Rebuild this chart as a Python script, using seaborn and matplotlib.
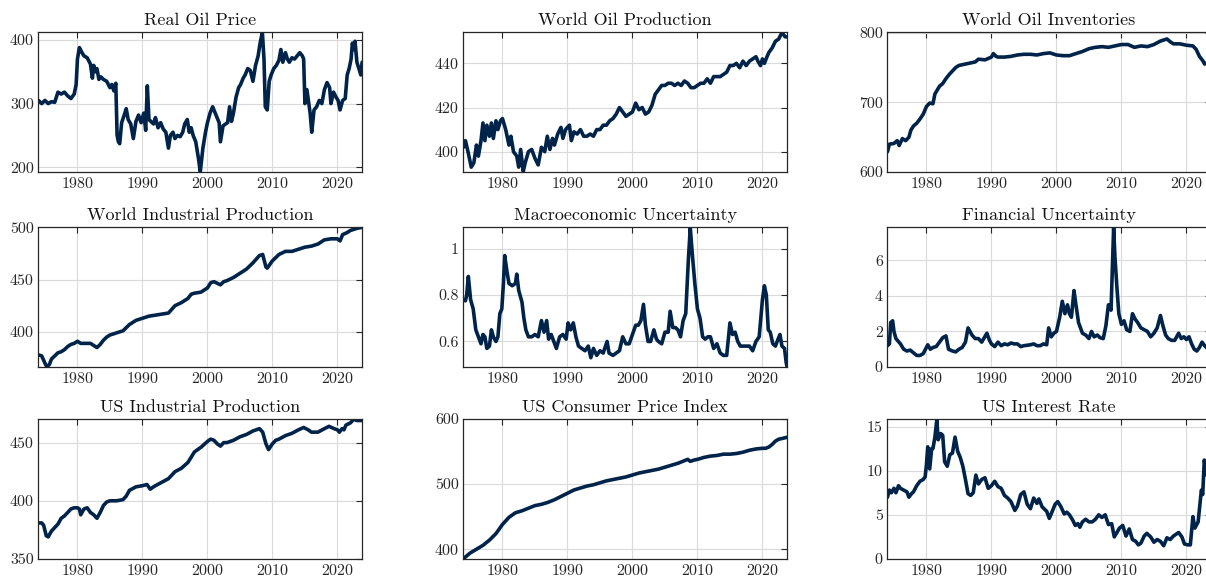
import matplotlib
matplotlib.use("Agg")
import matplotlib.pyplot as plt
import matplotlib.ticker as mticker
import numpy as np
import pandas as pd
import seaborn as sns

# ---------------- data: (year, value) ----------------
real_oil_price = [
    (1974.0, 305), (1974.5, 300), (1975.0, 305), (1975.5, 300), (1976.0, 303), (1976.5, 302),
    (1977.0, 318), (1977.5, 315), (1978.0, 318), (1978.5, 312), (1979.0, 308), (1979.5, 315),
    (1979.8, 330), (1980.0, 370), (1980.3, 388), (1980.7, 380), (1981.0, 375), (1981.5, 372),
    (1982.0, 362), (1982.3, 340), (1982.5, 360), (1982.8, 350), (1983.0, 355), (1983.3, 338),
    (1983.6, 342), (1984.0, 338), (1984.5, 335), (1985.0, 325), (1985.3, 330), (1985.6, 320),
    (1985.9, 332), (1986.1, 250), (1986.3, 240), (1986.5, 237), (1986.8, 270), (1987.2, 282),
    (1987.5, 292), (1987.8, 275), (1988.2, 268), (1988.6, 245), (1989.0, 272), (1989.4, 282),
    (1989.8, 270), (1990.2, 285), (1990.5, 258), (1990.75, 328), (1991.0, 275), (1991.3, 272),
    (1991.7, 268), (1992.0, 278), (1992.4, 262), (1992.8, 270), (1993.2, 260), (1993.6, 255),
    (1994.0, 230), (1994.3, 250), (1994.7, 255), (1995.0, 245), (1995.4, 250), (1995.8, 248),
    (1996.2, 255), (1996.5, 268), (1996.9, 275), (1997.2, 255), (1997.5, 262), (1997.8, 250),
    (1998.2, 240), (1998.6, 215), (1998.9, 193), (1999.3, 230), (1999.7, 255), (2000.0, 270),
    (2000.4, 285), (2000.8, 295), (2001.0, 290), (2001.4, 280), (2001.8, 270), (2002.0, 240),
    (2002.4, 265), (2002.8, 268), (2003.1, 270), (2003.4, 295), (2003.7, 272), (2004.0, 285),
    (2004.4, 310), (2004.8, 325), (2005.1, 330), (2005.5, 340), (2005.8, 345), (2006.2, 355),
    (2006.6, 352), (2007.0, 335), (2007.4, 360), (2007.8, 375), (2008.1, 395), (2008.45, 412),
    (2008.7, 370), (2008.9, 295), (2009.2, 290), (2009.5, 335), (2009.8, 345), (2010.2, 355),
    (2010.6, 360), (2011.0, 368), (2011.3, 385), (2011.6, 365), (2012.0, 380), (2012.3, 370),
    (2012.6, 365), (2013.0, 372), (2013.4, 370), (2013.8, 375), (2014.2, 380), (2014.6, 375),
    (2014.8, 370), (2015.0, 300), (2015.3, 322), (2015.6, 300), (2015.8, 285), (2016.05, 255),
    (2016.4, 290), (2016.8, 295), (2017.2, 305), (2017.6, 300), (2018.0, 322), (2018.4, 333),
    (2018.8, 325), (2019.0, 300), (2019.4, 318), (2019.8, 310), (2020.1, 305), (2020.4, 290),
    (2020.8, 305), (2021.2, 308), (2021.5, 345), (2021.8, 355), (2022.1, 370), (2022.3, 395),
    (2022.5, 385), (2022.7, 398), (2023.0, 365), (2023.3, 355), (2023.6, 345), (2023.8, 365),
]

world_oil_production = [
    (1974.0, 402), (1974.3, 405), (1974.7, 400), (1975.2, 393), (1975.6, 395), (1976.0, 403),
    (1976.3, 398), (1976.7, 405), (1977.0, 413), (1977.3, 405), (1977.6, 412), (1978.0, 407),
    (1978.3, 413), (1978.6, 406), (1979.0, 414), (1979.3, 410), (1979.7, 414), (1980.0, 415),
    (1980.5, 410), (1981.0, 403), (1981.3, 407), (1981.7, 400), (1982.2, 398), (1982.5, 393),
    (1982.8, 401), (1983.2, 391), (1983.5, 395), (1984.0, 400), (1984.5, 401), (1985.0, 397),
    (1985.5, 394), (1986.0, 402), (1986.5, 400), (1986.9, 407), (1987.3, 401), (1987.7, 406),
    (1988.0, 403), (1988.5, 408), (1989.0, 411), (1989.3, 406), (1989.7, 410), (1990.3, 412),
    (1990.6, 405), (1991.0, 409), (1991.5, 408), (1992.0, 410), (1992.5, 407), (1993.0, 407),
    (1993.5, 408), (1994.0, 407), (1994.5, 410), (1995.0, 410), (1995.5, 412), (1996.0, 412),
    (1996.5, 414), (1997.0, 415), (1997.5, 417), (1998.0, 420), (1998.5, 418), (1999.0, 416),
    (1999.5, 417), (2000.0, 418), (2000.5, 422), (2001.0, 419), (2001.5, 420), (2002.0, 417),
    (2002.5, 418), (2003.0, 421), (2003.5, 426), (2004.0, 428), (2004.5, 430), (2005.0, 430),
    (2005.5, 431), (2006.0, 431), (2006.5, 430), (2007.0, 431), (2007.5, 430), (2008.0, 432),
    (2008.5, 431), (2009.0, 429), (2009.5, 429), (2010.0, 430), (2010.5, 431), (2011.0, 431),
    (2011.5, 433), (2012.0, 431), (2012.5, 434), (2013.0, 434), (2013.5, 434), (2014.0, 435),
    (2014.5, 436), (2015.0, 439), (2015.5, 439), (2016.0, 440), (2016.5, 438), (2017.0, 441),
    (2017.5, 439), (2018.0, 441), (2018.5, 442), (2019.0, 443), (2019.3, 441), (2019.7, 439),
    (2020.0, 442), (2020.3, 440), (2020.7, 443), (2021.0, 445), (2021.5, 447), (2022.0, 450),
    (2022.5, 451), (2023.0, 454), (2023.5, 452), (2023.8, 452),
]

world_oil_inventories = [
    (1974.0, 629), (1974.3, 640), (1975.0, 641), (1975.5, 645), (1975.8, 638), (1976.3, 648),
    (1976.8, 645), (1977.3, 650), (1977.6, 660), (1978.0, 666), (1978.5, 670), (1979.0, 676),
    (1979.5, 683), (1980.0, 694), (1980.5, 699), (1981.0, 698), (1981.3, 712), (1982.0, 723),
    (1982.5, 727), (1983.0, 734), (1983.5, 740), (1984.0, 745), (1984.5, 750), (1985.0, 753),
    (1985.5, 754), (1986.0, 755), (1987.0, 757), (1987.5, 758), (1988.0, 762), (1989.0, 761),
    (1989.5, 763), (1990.0, 765), (1990.3, 770), (1990.7, 766), (1991.0, 765), (1992.0, 765),
    (1993.0, 766), (1994.0, 768), (1995.0, 769), (1996.0, 769), (1997.0, 768), (1998.0, 770),
    (1999.0, 771), (2000.0, 768), (2001.0, 767), (2002.0, 767), (2003.0, 770), (2004.0, 773),
    (2005.0, 777), (2006.0, 779), (2007.0, 780), (2008.0, 779), (2009.0, 781), (2010.0, 783),
    (2011.0, 783), (2012.0, 779), (2013.0, 781), (2014.0, 780), (2015.0, 783), (2016.0, 788),
    (2017.0, 791), (2017.5, 787), (2018.0, 784), (2019.0, 784), (2020.0, 782), (2021.0, 781),
    (2021.5, 776), (2022.0, 766), (2022.5, 760), (2022.8, 755), (2023.2, 757), (2023.8, 753),
]

world_industrial_production = [
    (1974.0, 378), (1974.5, 377), (1975.0, 370), (1975.3, 366.5), (1975.7, 369), (1976.0, 374),
    (1976.5, 377), (1977.0, 380), (1977.5, 381), (1978.0, 383), (1978.5, 386), (1979.0, 388),
    (1979.5, 389), (1980.0, 391), (1980.5, 389), (1981.0, 389), (1981.5, 389), (1982.0, 389),
    (1982.5, 387), (1983.0, 385), (1983.5, 388), (1984.0, 392), (1984.5, 395), (1985.0, 397),
    (1986.0, 399), (1987.0, 401), (1987.5, 404), (1988.0, 407), (1989.0, 411), (1990.0, 413),
    (1991.0, 415), (1992.0, 416), (1993.0, 417), (1994.0, 418), (1995.0, 425), (1996.0, 428),
    (1997.0, 432), (1997.5, 436), (1998.0, 437), (1999.0, 438), (2000.0, 442), (2000.5, 447),
    (2001.0, 448), (2002.0, 445), (2002.5, 448), (2003.0, 449), (2004.0, 452), (2005.0, 456),
    (2006.0, 460), (2007.0, 466), (2008.0, 473), (2008.5, 474), (2009.0, 462), (2009.2, 461),
    (2010.0, 468), (2011.0, 474), (2012.0, 477), (2013.0, 477), (2014.0, 479), (2015.0, 481),
    (2016.0, 482), (2017.0, 484), (2018.0, 488), (2019.0, 489), (2020.0, 489), (2020.4, 487),
    (2020.8, 493), (2021.5, 495), (2022.0, 497), (2023.0, 499), (2023.8, 500),
]

macro_uncertainty = [
    (1974.0, 0.78), (1974.3, 0.775), (1974.5, 0.80), (1974.75, 0.88), (1975.1, 0.78),
    (1975.5, 0.74), (1975.9, 0.65), (1976.3, 0.62), (1976.7, 0.59), (1977.0, 0.63),
    (1977.3, 0.62), (1977.6, 0.57), (1978.0, 0.58), (1978.3, 0.65), (1978.6, 0.62),
    (1979.0, 0.60), (1979.3, 0.62), (1979.6, 0.72), (1979.9, 0.74), (1980.15, 0.85),
    (1980.35, 0.97), (1980.7, 0.90), (1981.0, 0.85), (1981.5, 0.84), (1982.0, 0.85),
    (1982.2, 0.89), (1982.5, 0.82), (1983.0, 0.77), (1983.3, 0.70), (1983.6, 0.65),
    (1984.0, 0.62), (1984.5, 0.62), (1985.0, 0.63), (1985.5, 0.62), (1986.0, 0.69),
    (1986.4, 0.64), (1986.8, 0.69), (1987.1, 0.61), (1987.5, 0.63), (1987.9, 0.60),
    (1988.3, 0.57), (1988.8, 0.62), (1989.3, 0.63), (1989.8, 0.61), (1990.1, 0.68),
    (1990.5, 0.65), (1990.9, 0.68), (1991.3, 0.62), (1991.7, 0.58), (1992.2, 0.57),
    (1992.7, 0.56), (1993.2, 0.58), (1993.6, 0.53), (1994.0, 0.57), (1994.5, 0.54),
    (1995.0, 0.56), (1995.5, 0.55), (1996.1, 0.60), (1996.4, 0.55), (1997.0, 0.54),
    (1997.5, 0.55), (1998.0, 0.56), (1998.5, 0.62), (1999.0, 0.59), (1999.5, 0.59),
    (2000.0, 0.63), (2000.5, 0.67), (2000.9, 0.67), (2001.3, 0.69), (2001.7, 0.76),
    (2002.0, 0.67), (2002.4, 0.60), (2002.8, 0.60), (2003.3, 0.65), (2003.7, 0.61),
    (2004.0, 0.60), (2004.5, 0.59), (2005.0, 0.64), (2005.5, 0.64), (2005.8, 0.73),
    (2006.2, 0.66), (2006.6, 0.66), (2007.0, 0.65), (2007.4, 0.62), (2007.8, 0.69),
    (2008.2, 0.72), (2008.6, 0.95), (2008.9, 1.09), (2009.2, 0.98), (2009.6, 0.85),
    (2010.0, 0.74), (2010.4, 0.70), (2010.8, 0.62), (2011.2, 0.61), (2011.6, 0.62),
    (2012.0, 0.62), (2012.5, 0.57), (2013.0, 0.59), (2013.5, 0.55), (2014.0, 0.54),
    (2014.5, 0.54), (2015.0, 0.68), (2015.4, 0.63), (2015.8, 0.64), (2016.2, 0.60),
    (2016.6, 0.58), (2017.0, 0.58), (2017.5, 0.58), (2018.0, 0.58), (2018.5, 0.56),
    (2019.0, 0.60), (2019.5, 0.62), (2020.0, 0.78), (2020.3, 0.84), (2020.6, 0.80),
    (2020.9, 0.65), (2021.2, 0.64), (2021.6, 0.59), (2022.0, 0.58), (2022.4, 0.61),
    (2022.7, 0.63), (2023.0, 0.58), (2023.4, 0.57), (2023.65, 0.51), (2023.8, 0.49),
]

financial_uncertainty = [
    (1974.0, 1.2), (1974.3, 1.3), (1974.5, 2.5), (1974.8, 2.6), (1975.0, 2.0), (1975.3, 1.6),
    (1976.0, 1.3), (1976.5, 1.0), (1977.0, 0.9), (1977.5, 0.95), (1978.0, 0.8), (1978.5, 0.65),
    (1979.0, 0.65), (1979.5, 0.75), (1980.2, 1.25), (1980.6, 1.0), (1981.0, 1.1), (1981.5, 1.15),
    (1982.0, 1.4), (1982.5, 1.65), (1983.0, 1.75), (1983.4, 1.0), (1984.0, 0.9), (1984.5, 0.85),
    (1985.0, 1.0), (1985.5, 1.1), (1986.0, 1.4), (1986.4, 2.2), (1987.0, 1.8), (1987.5, 1.6),
    (1988.0, 1.6), (1988.5, 1.4), (1989.3, 1.9), (1989.7, 1.5), (1990.0, 1.3), (1990.5, 1.15),
    (1991.0, 1.4), (1991.5, 1.2), (1992.0, 1.3), (1992.5, 1.25), (1993.0, 1.35), (1993.5, 1.3),
    (1994.0, 1.3), (1994.5, 1.15), (1995.0, 1.2), (1996.0, 1.25), (1996.5, 1.3), (1997.0, 1.2),
    (1997.5, 1.2), (1998.0, 1.3), (1998.5, 1.25), (1998.8, 2.2), (1999.2, 1.7), (1999.6, 1.9),
    (2000.0, 2.0), (2000.5, 2.8), (2000.9, 3.7), (2001.3, 3.0), (2001.7, 3.5), (2002.0, 3.0),
    (2002.3, 2.8), (2002.7, 4.3), (2003.0, 3.5), (2003.4, 2.5), (2004.0, 1.9), (2004.5, 1.8),
    (2005.0, 1.6), (2005.4, 2.0), (2005.8, 1.7), (2006.3, 1.8), (2006.7, 1.65), (2007.2, 1.6),
    (2007.6, 2.3), (2008.0, 3.5), (2008.4, 3.2), (2008.8, 7.85), (2009.0, 6.2), (2009.3, 4.5),
    (2009.6, 3.0), (2010.0, 2.4), (2010.4, 2.6), (2010.8, 2.1), (2011.3, 2.0), (2011.7, 3.0),
    (2012.1, 2.7), (2012.5, 2.5), (2013.0, 2.2), (2013.5, 2.1), (2014.0, 2.0), (2014.5, 1.7),
    (2015.0, 1.9), (2015.5, 2.2), (2016.0, 2.9), (2016.4, 2.3), (2016.8, 1.8), (2017.2, 1.6),
    (2017.7, 1.5), (2018.2, 1.5), (2018.8, 1.9), (2019.2, 1.6), (2019.6, 1.7), (2020.0, 1.55),
    (2020.4, 1.7), (2020.8, 1.3), (2021.2, 1.0), (2021.6, 0.9), (2022.0, 1.1), (2022.4, 1.4),
    (2022.8, 1.2), (2023.2, 1.05), (2023.8, 1.1),
]

us_industrial_production = [
    (1974.0, 381), (1974.5, 381), (1974.8, 379), (1975.2, 370), (1975.5, 369), (1976.0, 374),
    (1976.5, 377), (1977.0, 380), (1977.5, 385), (1978.0, 387), (1978.5, 390), (1979.0, 393),
    (1979.5, 394), (1980.0, 394), (1980.3, 393), (1980.5, 388), (1981.0, 393), (1981.5, 394),
    (1982.0, 390), (1982.5, 388), (1983.0, 385), (1983.5, 390), (1984.0, 396), (1984.5, 399),
    (1985.0, 400), (1986.0, 400), (1987.0, 401), (1987.5, 404), (1988.0, 409), (1989.0, 412),
    (1990.0, 413), (1990.7, 414), (1991.2, 410), (1991.7, 412), (1992.0, 413), (1993.0, 416),
    (1994.0, 419), (1995.0, 425), (1996.0, 428), (1997.0, 433), (1998.0, 442), (1999.0, 446),
    (2000.0, 451), (2000.5, 453), (2001.0, 452), (2001.5, 449), (2002.0, 447), (2002.5, 450),
    (2003.0, 450), (2004.0, 452), (2005.0, 455), (2006.0, 457), (2007.0, 460), (2007.5, 461),
    (2008.0, 462), (2008.5, 459), (2009.0, 449), (2009.4, 444), (2010.0, 449), (2010.5, 452),
    (2011.0, 453), (2012.0, 456), (2013.0, 458), (2014.0, 461), (2014.8, 463), (2015.5, 461),
    (2016.0, 459), (2017.0, 459), (2018.0, 462), (2018.7, 464), (2019.5, 462), (2020.0, 461),
    (2020.3, 459), (2020.7, 462), (2021.0, 461), (2021.3, 465), (2022.0, 467), (2022.5, 470),
    (2023.0, 469), (2023.8, 469),
]

us_cpi = [
    (1974.0, 385.5), (1975.0, 394), (1976.0, 400), (1977.0, 406), (1978.0, 414), (1979.0, 424),
    (1980.0, 438), (1981.0, 449), (1982.0, 456), (1983.0, 459), (1984.0, 463), (1985.0, 467),
    (1986.0, 469), (1987.0, 472), (1988.0, 476), (1989.0, 481), (1990.0, 486), (1991.0, 491),
    (1992.0, 494), (1993.0, 497), (1994.0, 499), (1995.0, 502), (1996.0, 505), (1997.0, 507),
    (1998.0, 509), (1999.0, 511), (2000.0, 514), (2001.0, 517), (2002.0, 519), (2003.0, 521),
    (2004.0, 523), (2005.0, 526), (2006.0, 529), (2007.0, 532), (2008.5, 538), (2008.9, 535),
    (2009.5, 537), (2010.0, 538), (2011.0, 541), (2012.0, 543), (2013.0, 544), (2014.0, 546),
    (2015.0, 546), (2016.0, 547), (2017.0, 549), (2018.0, 552), (2019.0, 554), (2020.0, 555),
    (2020.5, 555), (2021.0, 557), (2021.5, 561), (2022.0, 566), (2022.5, 569), (2023.0, 570),
    (2023.8, 572),
]

us_interest_rate = [
    (1974.0, 7.0), (1974.3, 7.8), (1974.6, 7.5), (1975.0, 8.0), (1975.3, 7.5), (1975.7, 8.3),
    (1976.0, 8.0), (1976.5, 7.8), (1977.0, 7.6), (1977.3, 7.0), (1977.7, 7.4), (1978.0, 7.6),
    (1978.5, 8.3), (1979.0, 8.8), (1979.5, 9.0), (1979.8, 9.3), (1980.0, 10.7), (1980.2, 12.7),
    (1980.5, 10.2), (1980.8, 12.5), (1981.0, 12.5), (1981.3, 13.8), (1981.6, 15.8), (1981.8, 13.5),
    (1982.2, 14.2), (1982.5, 14.0), (1982.8, 11.0), (1983.2, 10.5), (1983.6, 11.8), (1984.0, 12.0),
    (1984.4, 13.8), (1984.8, 12.2), (1985.2, 11.5), (1985.6, 10.5), (1986.0, 9.0), (1986.4, 7.4),
    (1986.8, 7.2), (1987.2, 7.5), (1987.6, 9.5), (1988.0, 8.5), (1988.5, 9.0), (1989.0, 9.2),
    (1989.5, 8.0), (1990.0, 8.3), (1990.5, 8.8), (1991.0, 8.2), (1991.5, 8.0), (1992.0, 7.2),
    (1992.5, 6.9), (1993.0, 6.5), (1993.6, 5.5), (1994.0, 6.0), (1994.5, 7.3), (1995.0, 7.6),
    (1995.5, 6.2), (1996.0, 5.7), (1996.5, 6.9), (1997.0, 6.3), (1997.3, 6.8), (1997.8, 5.9),
    (1998.5, 5.4), (1998.9, 4.6), (1999.3, 5.3), (1999.8, 6.2), (2000.2, 6.5), (2000.7, 5.9),
    (2001.2, 5.1), (2001.6, 5.3), (2002.0, 5.0), (2002.5, 4.4), (2002.9, 3.8), (2003.3, 4.0),
    (2003.6, 3.6), (2004.0, 4.2), (2004.5, 4.5), (2005.0, 4.2), (2005.5, 4.2), (2006.0, 4.5),
    (2006.5, 5.0), (2007.0, 4.7), (2007.5, 5.0), (2008.0, 3.9), (2008.5, 4.0), (2008.9, 2.5),
    (2009.3, 3.0), (2009.7, 3.5), (2010.2, 3.8), (2010.7, 2.6), (2011.2, 3.4), (2011.7, 2.2),
    (2012.2, 2.0), (2012.6, 1.6), (2013.0, 1.8), (2013.5, 2.6), (2013.9, 2.9), (2014.5, 2.5),
    (2015.0, 1.9), (2015.5, 2.2), (2016.0, 2.0), (2016.5, 1.5), (2017.0, 2.4), (2017.5, 2.2),
    (2018.0, 2.6), (2018.8, 3.0), (2019.3, 2.5), (2019.7, 1.7), (2020.2, 1.6), (2020.6, 1.6),
    (2021.0, 4.8), (2021.3, 3.5), (2021.8, 4.2), (2022.3, 7.8), (2022.5, 7.3), (2022.75, 11.2),
    (2023.1, 9.5), (2023.5, 9.8), (2023.8, 9.5),
]

titles = [
    "Real Oil Price", "World Oil Production", "World Oil Inventories",
    "World Industrial Production", "Macroeconomic Uncertainty", "Financial Uncertainty",
    "US Industrial Production", "US Consumer Price Index", "US Interest Rate",
]
series = [
    real_oil_price, world_oil_production, world_oil_inventories,
    world_industrial_production, macro_uncertainty, financial_uncertainty,
    us_industrial_production, us_cpi, us_interest_rate,
]
y_limits = [
    (192.5, 412.5), (390.8, 454.2), (600, 801),
    (366.4, 500.3), (0.49, 1.093), (0, 7.88),
    (350, 470.3), (385, 600), (0, 15.85),
]
y_ticks = [
    [200, 300, 400], [400, 420, 440], [600, 700, 800],
    [400, 450, 500], [0.6, 0.8, 1.0], [0, 2, 4, 6],
    [350, 400, 450], [400, 500, 600], [0, 5, 10, 15],
]
x_ticks = [1980, 1990, 2000, 2010, 2020]

# ---------------- style ----------------
sns.set_theme(style="white")
plt.rcParams["font.family"] = ["cmr10", "DejaVu Serif"]
plt.rcParams["mathtext.fontset"] = "cm"
plt.rcParams["axes.formatter.use_mathtext"] = True
plt.rcParams["axes.unicode_minus"] = False

LINE = "#00234a"
SPINE = "#262626"
GRID = "#dadada"

W, H = 1206, 579
fig = plt.figure(figsize=(W / 100, H / 100), dpi=100)
fig.patch.set_facecolor("white")

lefts = [38, 463, 887]
tops = [32, 227, 419]
aw, ah = 324, 140

for i, (title, data) in enumerate(zip(titles, series)):
    r, c = divmod(i, 3)
    ax = fig.add_axes([lefts[c] / W, (H - tops[r] - ah) / H, aw / W, ah / H])
    df = pd.DataFrame(data, columns=["year", "value"])
    sns.lineplot(data=df, x="year", y="value", ax=ax, color=LINE,
                 linewidth=2.6, estimator=None, sort=False)
    ax.set_xlim(1973.93, 2023.78)
    ax.set_ylim(*y_limits[i])
    ax.set_xticks(x_ticks)
    ax.set_yticks(y_ticks[i])
    ax.yaxis.set_major_formatter(mticker.FuncFormatter(lambda v, p: f"{v:g}"))
    ax.grid(True, color=GRID, linewidth=0.8)
    ax.set_axisbelow(True)
    ax.tick_params(axis="both", direction="in", length=4, width=0.8,
                   top=True, right=True, color=SPINE, labelcolor="#262626",
                   labelsize=11.5)
    ax.tick_params(axis="x", pad=3)
    ax.tick_params(axis="y", pad=3)
    for s in ax.spines.values():
        s.set_visible(True)
        s.set_color(SPINE)
        s.set_linewidth(0.9)
    ax.set_xlabel("")
    ax.set_ylabel("")
    ax.set_title(title, fontsize=13, pad=5, color="#111111")

fig.savefig("out.png", dpi=100)
